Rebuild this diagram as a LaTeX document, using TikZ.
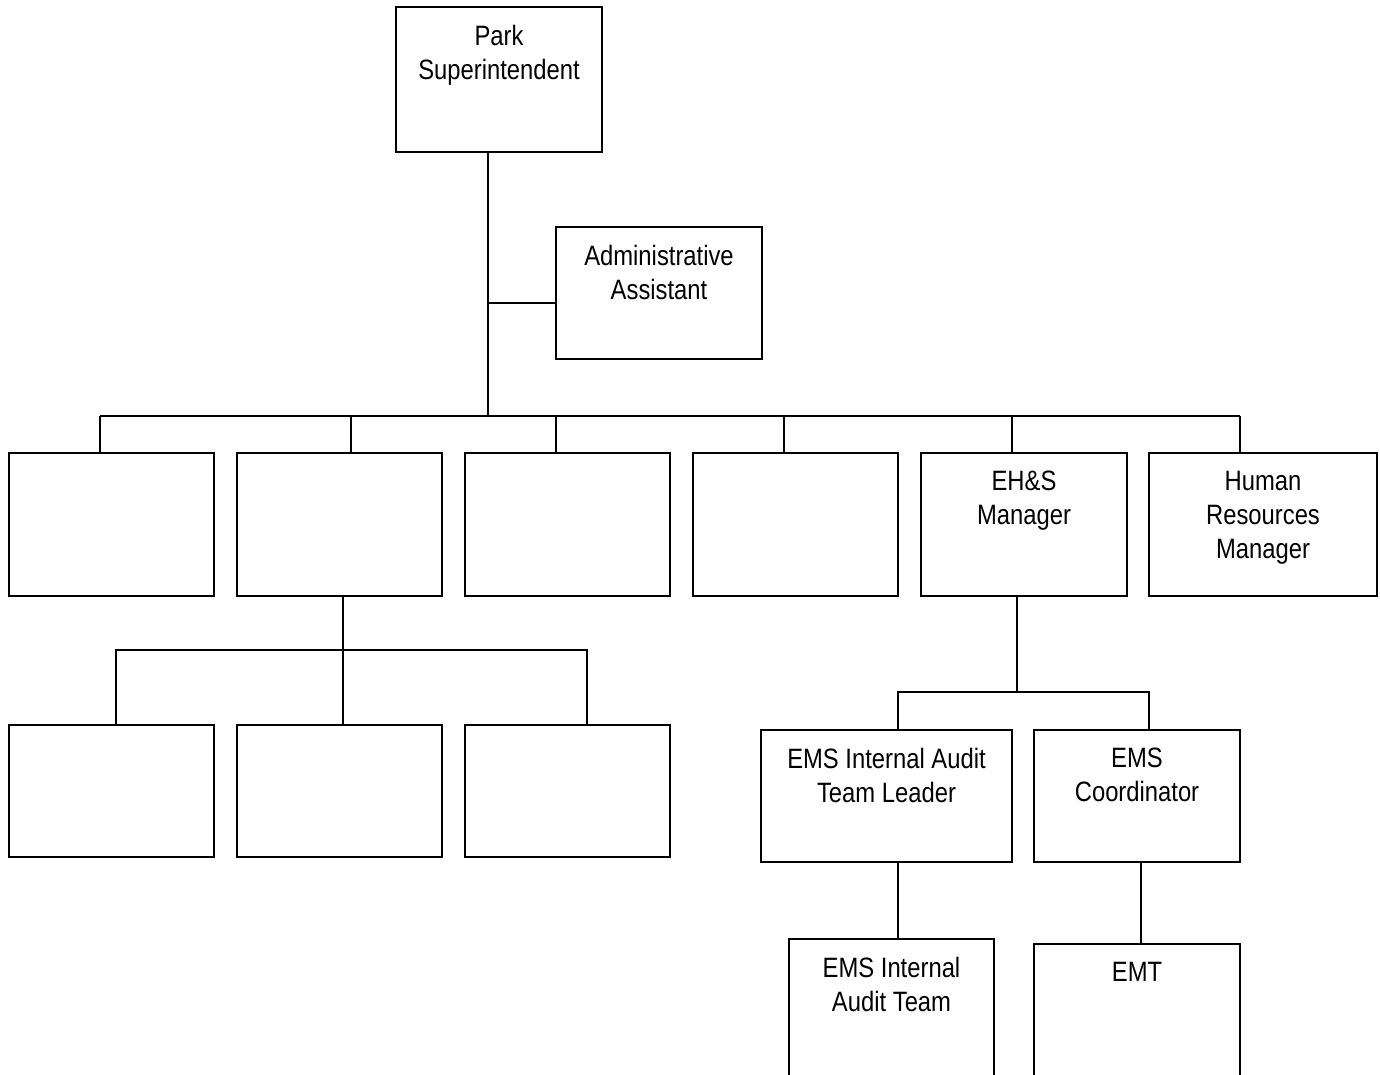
\documentclass[tikz,border=0pt]{standalone}
\usepackage{fontspec}
\setmainfont{Liberation Sans}[FakeStretch=0.85]
\usetikzlibrary{calc}

\tikzset{
  orgbox/.style={draw, line width=1pt, anchor=north west, inner sep=0pt, outer sep=0pt,
    minimum width=102.5pt, minimum height=71.5pt},
  orgtext/.style={anchor=north, align=center, inner sep=0pt, font=\fontsize{14}{17}\selectfont},
  link/.style={line width=1pt}
}

\begin{document}
\begin{tikzpicture}[x=0.5pt, y=-0.5pt]
  \useasboundingbox (0,0) rectangle (1380,1075);
  \clip (0,0) rectangle (1380,1075);

  % Top of the chart
  \node[orgbox, minimum width=103pt, minimum height=72.5pt] (ps) at (396,7) {};
  \node[orgtext] (ps-t) at ($(ps.north)+(0,18)$) {Park\\Superintendent};

  \node[orgbox, minimum width=103pt, minimum height=66pt] (aa) at (556,227) {};
  \node[orgtext] (aa-t) at ($(aa.north)+(0,18)$) {Administrative\\Assistant};

  % Second row
  \node[orgbox] (r1) at (9,453) {};
  \node[orgbox] (r2) at (237,453) {};
  \node[orgbox] (r3) at (465,453) {};
  \node[orgbox] (r4) at (693,453) {};
  \node[orgbox, minimum width=103pt] (eh) at (921,453) {};
  \node[orgtext] (eh-t) at ($(eh.north)+(0,18)$) {EH\&S\\Manager};
  \node[orgbox, minimum width=114pt] (hr) at (1149,453) {};
  \node[orgtext] (hr-t) at ($(hr.north)+(0,18)$) {Human\\Resources\\Manager};

  % Third row, left
  \node[orgbox, minimum height=66pt] (s1) at (9,725) {};
  \node[orgbox, minimum height=66pt] (s2) at (237,725) {};
  \node[orgbox, minimum height=66pt] (s3) at (465,725) {};

  % EMS branch
  \node[orgbox, minimum width=125.5pt, minimum height=66pt] (tl) at (761,730) {};
  \node[orgtext] (tl-t) at ($(tl.north)+(0,18)$) {EMS Internal Audit\\Team Leader};
  \node[orgbox, minimum width=103pt, minimum height=66pt] (co) at (1034,730) {};
  \node[orgtext] (co-t) at ($(co.north)+(0,18)$) {EMS\\Coordinator};
  \node[orgbox, minimum height=82pt] (at) at (789,939) {};
  \node[orgtext] (at-t) at ($(at.north)+(0,18)$) {EMS Internal\\Audit Team};
  \node[orgbox, minimum width=103pt, minimum height=82pt] (emt) at (1034,944) {};
  \node[orgtext] (emt-t) at ($(emt.north)+(0,18)$) {EMT};

  % Junctions
  \coordinate (j0) at (488,416);
  \coordinate (ja) at (488,303);
  \coordinate (t1) at (100,416);
  \coordinate (t2) at (351,416);
  \coordinate (t3) at (556,416);
  \coordinate (t4) at (784,416);
  \coordinate (t5) at (1012,416);
  \coordinate (t6) at (1240,416);
  \coordinate (m0) at (343,650);
  \coordinate (m1) at (116,650);
  \coordinate (m3) at (587,650);
  \coordinate (e0) at (1017,692);
  \coordinate (e1) at (898,692);
  \coordinate (e2) at (1149,692);

  % Connectors
  \draw[link] (ps.south -| j0) -- (j0);
  \draw[link] (ja) -- (ja -| aa.west);
  \draw[link] (t1) -- (t6);
  \draw[link] (t1) -- (t1 |- r1.north);
  \draw[link] (t2) -- (t2 |- r2.north);
  \draw[link] (t3) -- (t3 |- r3.north);
  \draw[link] (t4) -- (t4 |- r4.north);
  \draw[link] (t5) -- (t5 |- eh.north);
  \draw[link] (t6) -- (t6 |- hr.north);

  \draw[link] (r2.south -| m0) -- (m0 |- s2.north);
  \draw[link] (m1 |- s1.north) -- (m1) -- (m3) -- (m3 |- s3.north);

  \draw[link] (eh.south -| e0) -- (e0);
  \draw[link] (e1 |- tl.north) -- (e1) -- (e2) -- (e2 |- co.north);
  \draw[link] (tl.south -| e1) -- (e1 |- at.north);
  \draw[link] (co.south -| 1141,0) -- (emt.north -| 1141,0);
\end{tikzpicture}
\end{document}
